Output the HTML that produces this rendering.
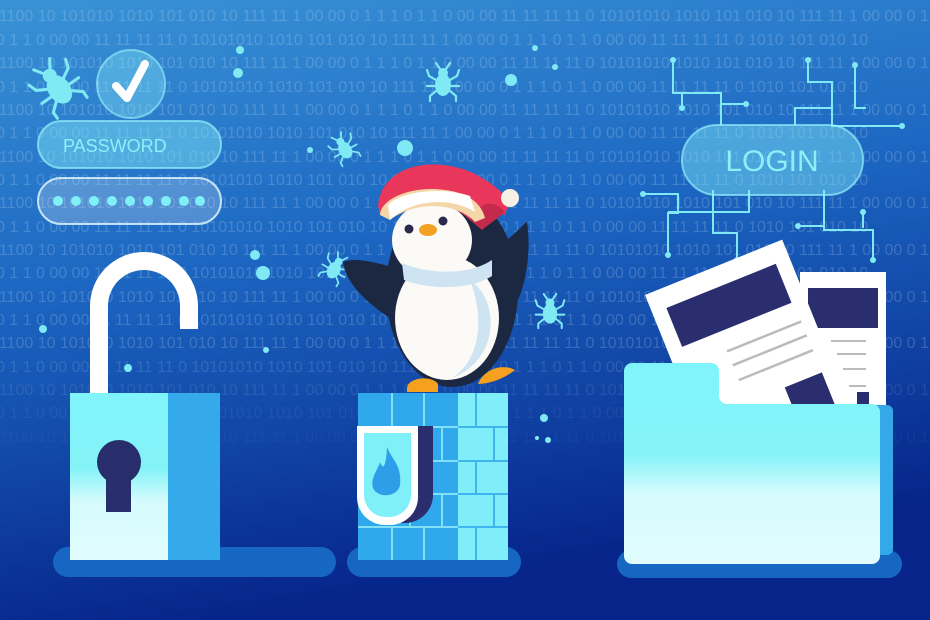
<!DOCTYPE html>
<html><head><meta charset="utf-8"><style>
html,body{margin:0;padding:0;width:930px;height:620px;overflow:hidden}
svg{display:block}
.bin{font-family:"Liberation Sans",sans-serif;font-size:16px;fill:rgba(255,255,255,0.17)}
</style></head><body>
<svg width="930" height="620" viewBox="0 0 930 620" xmlns="http://www.w3.org/2000/svg">
<defs>
<linearGradient id="bg" x1="0" y1="0" x2="0.25" y2="1">
<stop offset="0" stop-color="#3a93d6"/><stop offset="0.45" stop-color="#1c67c2"/><stop offset="1" stop-color="#06248a"/>
</linearGradient>
<linearGradient id="lite" x1="0" y1="0" x2="0" y2="1">
<stop offset="0" stop-color="#7ff4fa"/><stop offset="0.45" stop-color="#84f3f8"/><stop offset="0.65" stop-color="#d6fbfd"/><stop offset="1" stop-color="#e0fcfe"/>
</linearGradient>
<g id="bug" fill="#7fe9f4" stroke="#7fe9f4" stroke-width="2.2" stroke-linecap="round">
<ellipse cx="0" cy="3" rx="8" ry="11" stroke="none"/>
<circle cx="0" cy="-9" r="5" stroke="none"/>
<path d="M-7,-2 L-14,-6 L-16,-12 M7,-2 L14,-6 L16,-12 M-8,4 L-16,4 M8,4 L16,4 M-7,9 L-13,14 L-13,19 M7,9 L13,14 L13,19 M-3,-13 L-7,-19 M3,-13 L7,-19" fill="none"/>
</g>
</defs>
<rect width="930" height="620" fill="url(#bg)"/>
<g class="bin">
<text x="-10" y="21">01100 10 101010 1010 101 010 10 111 11 1 00 00 0 1 1 1 0  1  1  0 00 00 11 11 11 11 0 10101010 1010 101 010 10 111 11 1 00 00 0 1</text>
<text x="-4" y="45">0  1  1  0 00 00 11 11 11 11 0 10101010 1010 101 010 10 111 11 1 00 00 0 1 1 1 0  1  1  0 00 00 11 11 11 11 0 1010 101 010 10</text>
<text x="-10" y="68">01100 10 101010 1010 101 010 10 111 11 1 00 00 0 1 1 1 0  1  1  0 00 00 11 11 11 11 0 10101010 1010 101 010 10 111 11 1 00 00 0 1</text>
<text x="-4" y="92">0  1  1  0 00 00 11 11 11 11 0 10101010 1010 101 010 10 111 11 1 00 00 0 1 1 1 0  1  1  0 00 00 11 11 11 11 0 1010 101 010 10</text>
<text x="-10" y="115">01100 10 101010 1010 101 010 10 111 11 1 00 00 0 1 1 1 0  1  1  0 00 00 11 11 11 11 0 10101010 1010 101 010 10 111 11 1 00 00 0 1</text>
<text x="-4" y="138">0  1  1  0 00 00 11 11 11 11 0 10101010 1010 101 010 10 111 11 1 00 00 0 1 1 1 0  1  1  0 00 00 11 11 11 11 0 1010 101 010 10</text>
<text x="-10" y="162">01100 10 101010 1010 101 010 10 111 11 1 00 00 0 1 1 1 0  1  1  0 00 00 11 11 11 11 0 10101010 1010 101 010 10 111 11 1 00 00 0 1</text>
<text x="-4" y="185">0  1  1  0 00 00 11 11 11 11 0 10101010 1010 101 010 10 111 11 1 00 00 0 1 1 1 0  1  1  0 00 00 11 11 11 11 0 1010 101 010 10</text>
<text x="-10" y="208">01100 10 101010 1010 101 010 10 111 11 1 00 00 0 1 1 1 0  1  1  0 00 00 11 11 11 11 0 10101010 1010 101 010 10 111 11 1 00 00 0 1</text>
<text x="-4" y="232">0  1  1  0 00 00 11 11 11 11 0 10101010 1010 101 010 10 111 11 1 00 00 0 1 1 1 0  1  1  0 00 00 11 11 11 11 0 1010 101 010 10</text>
<text x="-10" y="255">01100 10 101010 1010 101 010 10 111 11 1 00 00 0 1 1 1 0  1  1  0 00 00 11 11 11 11 0 10101010 1010 101 010 10 111 11 1 00 00 0 1</text>
<text x="-4" y="278">0  1  1  0 00 00 11 11 11 11 0 10101010 1010 101 010 10 111 11 1 00 00 0 1 1 1 0  1  1  0 00 00 11 11 11 11 0 1010 101 010 10</text>
<text x="-10" y="302">01100 10 101010 1010 101 010 10 111 11 1 00 00 0 1 1 1 0  1  1  0 00 00 11 11 11 11 0 10101010 1010 101 010 10 111 11 1 00 00 0 1</text>
<text x="-4" y="325">0  1  1  0 00 00 11 11 11 11 0 10101010 1010 101 010 10 111 11 1 00 00 0 1 1 1 0  1  1  0 00 00 11 11 11 11 0 1010 101 010 10</text>
<text x="-10" y="348">01100 10 101010 1010 101 010 10 111 11 1 00 00 0 1 1 1 0  1  1  0 00 00 11 11 11 11 0 10101010 1010 101 010 10 111 11 1 00 00 0 1</text>
<text x="-4" y="372" fill="rgba(255,255,255,0.12)">0  1  1  0 00 00 11 11 11 11 0 10101010 1010 101 010 10 111 11 1 00 00 0 1 1 1 0  1  1  0 00 00 11 11 11 11 0 1010 101 010 10</text>
<text x="-10" y="395" fill="rgba(255,255,255,0.09)">01100 10 101010 1010 101 010 10 111 11 1 00 00 0 1 1 1 0  1  1  0 00 00 11 11 11 11 0 10101010 1010 101 010 10 111 11 1 00 00 0 1</text>
<text x="-4" y="418" fill="rgba(255,255,255,0.06)">0  1  1  0 00 00 11 11 11 11 0 10101010 1010 101 010 10 111 11 1 00 00 0 1 1 1 0  1  1  0 00 00 11 11 11 11 0 1010 101 010 10</text>
<text x="-10" y="442" fill="rgba(255,255,255,0.04)">01100 10 101010 1010 101 010 10 111 11 1 00 00 0 1 1 1 0  1  1  0 00 00 11 11 11 11 0 10101010 1010 101 010 10 111 11 1 00 00 0 1</text>
</g>

<!-- dots -->
<g fill="#7fe9f4">
<circle cx="240" cy="50" r="4"/><circle cx="238" cy="73" r="5"/><circle cx="255" cy="255" r="5"/><circle cx="263" cy="273" r="7"/><circle cx="43" cy="329" r="4"/><circle cx="128" cy="368" r="4"/><circle cx="266" cy="350" r="3"/><circle cx="405" cy="148" r="8"/><circle cx="511" cy="80" r="6"/><circle cx="535" cy="48" r="3"/><circle cx="555" cy="67" r="3"/><circle cx="544" cy="418" r="4"/><circle cx="548" cy="440" r="3"/><circle cx="537" cy="438" r="2"/><circle cx="310" cy="150" r="3"/>
</g>
<use href="#bug" transform="translate(57,86) rotate(-35) scale(1.4)"/>
<use href="#bug" transform="translate(443,82) scale(1)"/>
<use href="#bug" transform="translate(344,148) rotate(-30) scale(0.8)"/>
<use href="#bug" transform="translate(335,268) rotate(30) scale(0.8)"/>
<use href="#bug" transform="translate(550,311) rotate(0) scale(0.9)"/>

<!-- password -->
<circle cx="131" cy="84" r="34" fill="rgba(140,240,250,0.35)" stroke="rgba(160,245,250,0.6)" stroke-width="2"/>
<path d="M116,86 L127,98 L145,64" fill="none" stroke="#fff" stroke-width="8" stroke-linecap="round" stroke-linejoin="round"/>
<rect x="38" y="121" width="183" height="47" rx="23.5" fill="rgba(130,235,248,0.45)" stroke="rgba(150,240,250,0.7)" stroke-width="2"/>
<text x="63" y="152" font-family="Liberation Sans,sans-serif" font-size="18" fill="#8cf0f8">PASSWORD</text>
<rect x="38" y="178" width="183" height="46" rx="23" fill="rgba(255,255,255,0.22)" stroke="rgba(230,250,255,0.8)" stroke-width="2"/>
<g fill="#7ff0f8"><circle cx="58" cy="201" r="5"/><circle cx="76" cy="201" r="5"/><circle cx="94" cy="201" r="5"/><circle cx="112" cy="201" r="5"/><circle cx="130" cy="201" r="5"/><circle cx="148" cy="201" r="5"/><circle cx="166" cy="201" r="5"/><circle cx="184" cy="201" r="5"/><circle cx="200" cy="201" r="5"/></g>

<!-- login circuits -->
<g stroke="#7fe9f4" stroke-width="2" fill="none">
<path d="M673,60 V93 H721 V125 M721,104 H746 M682,93 V108"/>
<path d="M808,60 V82 H832 V108 H795 V125 M855,65 V108 H866 M832,108 V126 H902"/>
<path d="M643,194 H678 V213 H668 V255 M713,190 V233 H737 V260 M749,190 V212 H668"/>
<path d="M824,190 V226 H798 M824,226 V230 H873 V260 M863,212 V228"/>
</g>
<g fill="#7fe9f4"><circle cx="673" cy="60" r="3"/><circle cx="746" cy="104" r="3"/><circle cx="682" cy="108" r="3"/><circle cx="808" cy="60" r="3"/><circle cx="855" cy="65" r="3"/><circle cx="902" cy="126" r="3"/><circle cx="643" cy="194" r="3"/><circle cx="668" cy="255" r="3"/><circle cx="737" cy="260" r="3"/><circle cx="798" cy="226" r="3"/><circle cx="873" cy="260" r="3"/><circle cx="863" cy="212" r="3"/></g>
<rect x="682" y="125" width="181" height="70" rx="35" fill="rgba(130,235,248,0.45)" stroke="rgba(150,240,250,0.7)" stroke-width="2"/>
<text x="772" y="171" text-anchor="middle" font-family="Liberation Sans,sans-serif" font-size="30" fill="#8cf0f8">LOGIN</text>

<!-- bases -->
<g fill="#1766c2">
<rect x="53" y="547" width="283" height="30" rx="15"/>
<rect x="347" y="547" width="174" height="30" rx="15"/>
<rect x="617" y="550" width="285" height="28" rx="14"/>
</g>

<!-- lock -->
<path d="M90,393 V306 A54,54 0 0 1 198,306 V329 H180 V306 A36,36 0 0 0 108,306 V393 Z" fill="#fff"/>
<rect x="70" y="393" width="98" height="167" fill="url(#lite)"/>
<rect x="168" y="393" width="52" height="167" fill="#35aaea"/>
<circle cx="119" cy="462" r="22" fill="#282d6b"/>
<rect x="106" y="468" width="25" height="44" fill="#282d6b"/>

<!-- firewall -->
<rect x="358" y="393" width="100" height="167" fill="#30a8ec"/>
<rect x="458" y="393" width="50" height="167" fill="#80eef8"/>
<g stroke="#7fe0f6" stroke-width="2" fill="none">
<path d="M358,427 H458 M358,461 H458 M358,494 H458 M358,527 H458 M392,393 V427 M424,393 V427 M410,427 V461 M442,427 V461 M392,461 V494 M424,461 V494 M410,494 V527 M442,494 V527 M392,527 V560 M424,527 V560"/>
</g>
<g stroke="#40b4ee" stroke-width="2" fill="none">
<path d="M458,427 H508 M458,461 H508 M458,494 H508 M458,527 H508 M476,393 V427 M494,427 V461 M476,461 V494 M494,494 V527 M476,527 V560"/>
</g>
<path d="M377,426 H433 V495 A28,28 0 0 1 405,523 H400 Z" fill="#2a2e6e"/>
<path d="M357,426 H418 V497 A28,28 0 0 1 390,525 H385 A28,28 0 0 1 357,497 Z" fill="#fff"/>
<path d="M364,433 H411 V495 A22,22 0 0 1 389,517 H386 A22,22 0 0 1 364,495 Z" fill="#7ff0f8"/>
<path d="M387,447 C392,460 402,465 400,485 C398,497 378,499 373,488 C370,478 378,470 380,462 C383,470 386,468 387,447 Z" fill="#2f9ee8"/>

<!-- penguin -->
<path d="M395,268 C375,262 355,257 343,262 C345,285 375,310 397,322 Z" fill="#1c2842"/>
<path d="M500,245 C515,235 522,225 527,222 C532,255 525,300 505,320 Z" fill="#1c2842"/>
<ellipse cx="452" cy="290" rx="66" ry="97" fill="#1c2842"/>
<ellipse cx="432" cy="240" rx="40" ry="38" fill="#fbfaf6"/>
<ellipse cx="447" cy="318" rx="52" ry="62" fill="#fbfaf6"/>
<path d="M470,280 C500,300 500,360 452,378 C480,360 485,320 470,280 Z" fill="#cfe4f3"/>
<path d="M402,263 C430,275 470,275 492,260 L492,276 C470,290 430,290 404,280 Z" fill="#cfe4f3"/>
<circle cx="409" cy="229" r="4.5" fill="#2a2a4a"/><circle cx="443" cy="221" r="4.5" fill="#2a2a4a"/>
<ellipse cx="428" cy="230" rx="9" ry="6" fill="#f2a125"/>
<path d="M378,205 C382,170 420,160 450,166 C475,170 495,185 510,200 L505,215 C490,210 480,215 470,220 C450,200 410,196 380,215 Z" fill="#e8375a"/>
<path d="M470,220 C480,200 495,200 505,212 C498,218 488,225 482,230 Z" fill="#c42a4c"/>
<path d="M380,215 C380,200 410,185 445,190 C470,193 482,205 485,218 L475,222 C460,205 420,198 390,220 Z" fill="#f4d6a8"/>
<path d="M388,205 C400,192 440,186 470,196 L475,212 C450,196 410,200 390,220 Z" fill="#fff"/>
<circle cx="510" cy="198" r="9" fill="#f6f1e4"/>
<path d="M407,388 C408,377 432,375 438,384 L438,392 H407 Z" fill="#f5a01e"/>
<path d="M478,384 C482,372 500,362 515,370 C505,378 490,384 478,384 Z" fill="#f5a01e"/>

<!-- folder -->
<rect x="800" y="272" width="86" height="200" fill="#fff"/>
<rect x="808" y="288" width="70" height="40" fill="#2a2e6e"/>
<g stroke="#bbb" stroke-width="2"><path d="M831,341 H866 M837,354 H866 M843,369 H866 M849,386 H866"/></g>
<rect x="857" y="392" width="12" height="60" fill="#2a2e6e"/>
<g transform="rotate(-22 740 330)">
<rect x="665" y="262" width="148" height="200" fill="#fff"/>
<rect x="680" y="282" width="118" height="42" fill="#2a2e6e"/>
<g stroke="#bbb" stroke-width="2.5"><path d="M720,345 H800 M720,360 H800 M720,376 H800"/></g>
<rect x="760" y="400" width="40" height="50" fill="#2a2e6e"/>
</g>
<rect x="862" y="405" width="31" height="150" rx="6" fill="#35a8ea"/>
<path d="M632,363 H711 A8,8 0 0 1 719,371 V396 A8,8 0 0 0 727,404 H872 A8,8 0 0 1 880,412 V556 A8,8 0 0 1 872,564 H632 A8,8 0 0 1 624,556 V371 A8,8 0 0 1 632,363 Z" fill="url(#lite)"/>
</svg>
</body></html>
